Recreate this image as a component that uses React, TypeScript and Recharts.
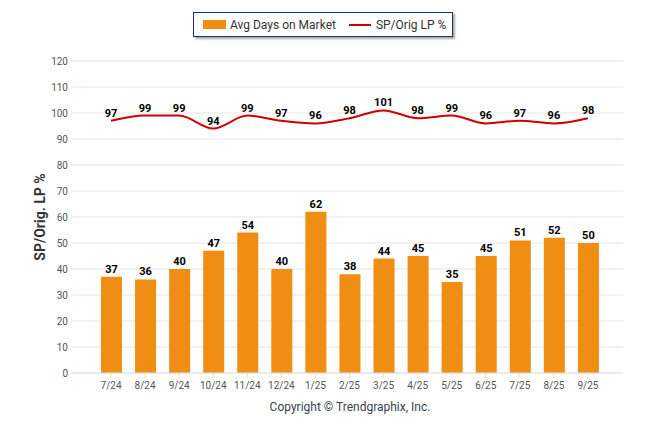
import { ComposedChart, Bar, Line, XAxis, YAxis, CartesianGrid, LabelList } from 'recharts'

const MONTHS = ['7/24', '8/24', '9/24', '10/24', '11/24', '12/24', '1/25', '2/25', '3/25', '4/25', '5/25', '6/25', '7/25', '8/25', '9/25']
const AVG_DAYS = [37, 36, 40, 47, 54, 40, 62, 38, 44, 45, 35, 45, 51, 52, 50]
const SP_ORIG = [97, 99, 99, 94, 99, 97, 96, 98, 101, 98, 99, 96, 97, 96, 98]
const Y_TICKS = [0, 10, 20, 30, 40, 50, 60, 70, 80, 90, 100, 110, 120]

const BAR_COLOR = '#F08E13'
const LINE_COLOR = '#CC0000'
const FONT = 'Roboto, "Open Sans", sans-serif'

const chartData = MONTHS.map((month, i) => ({
  month,
  days: AVG_DAYS[i],
  pct: SP_ORIG[i],
}))

const valueLabelStyle = { fontSize: 11, fontWeight: 700, fill: '#000', fontFamily: FONT }

export default function App() {
  return (
    <div style={{ position: 'absolute', left: 0, top: 0, width: 646, height: 434, background: '#fff', fontFamily: FONT }}>
      <ComposedChart
        width={646}
        height={434}
        data={chartData}
        margin={{ top: 61, right: 23, left: 27, bottom: 31 }}
      >
        <CartesianGrid vertical={false} stroke="#e6e6e6" />
        <XAxis
          dataKey="month"
          padding={{ left: 23, right: 18 }}
          height={30}
          stroke="#e0e0e0"
          tickSize={5}
          tickMargin={4}
          tick={{ fontSize: 10, fill: '#555', fontFamily: FONT }}
          interval={0}
        />
        <YAxis
          width={44}
          domain={[0, 120]}
          ticks={Y_TICKS}
          axisLine={false}
          tickLine={false}
          tickSize={0}
          tickMargin={3}
          tick={{ fontSize: 10, fill: '#555', fontFamily: FONT }}
          label={{
            content: () => (
              <text
                x={40}
                y={217}
                transform="rotate(-90, 40, 217)"
                textAnchor="middle"
                dominantBaseline="central"
                style={{ fontSize: 14, fontWeight: 700, fill: '#333', fontFamily: FONT }}
              >
                SP/Orig. LP %
              </text>
            ),
          }}
        />
        <Bar dataKey="days" fill={BAR_COLOR} barSize={21} isAnimationActive={false}>
          <LabelList dataKey="days" position="top" offset={4} style={valueLabelStyle} />
        </Bar>
        <Line
          type="monotone"
          dataKey="pct"
          stroke={LINE_COLOR}
          strokeWidth={2}
          dot={false}
          activeDot={false}
          isAnimationActive={false}
        >
          <LabelList dataKey="pct" position="top" offset={4} style={valueLabelStyle} />
        </Line>
      </ComposedChart>

      <div
        style={{
          position: 'absolute',
          left: 193,
          top: 12,
          width: 260,
          height: 25,
          border: '1px solid #1f3461',
          boxShadow: '2px 2px 2px rgba(0,0,0,0.35)',
          background: '#fff',
          display: 'flex',
          alignItems: 'center',
          fontSize: 12,
          color: '#333',
          boxSizing: 'border-box',
        }}
      >
        <span style={{ display: 'inline-block', width: 23, height: 9, background: BAR_COLOR, marginLeft: 9, marginRight: 4 }} />
        <span>Avg Days on Market</span>
        <span style={{ display: 'inline-block', width: 22, height: 2, background: LINE_COLOR, marginLeft: 13, marginRight: 5 }} />
        <span>SP/Orig LP %</span>
      </div>

      <div
        style={{
          position: 'absolute',
          left: 0,
          width: 700,
          top: 400,
          textAlign: 'center',
          fontSize: 12,
          color: '#3a3f4a',
        }}
      >
        Copyright © Trendgraphix, Inc.
      </div>
    </div>
  )
}
